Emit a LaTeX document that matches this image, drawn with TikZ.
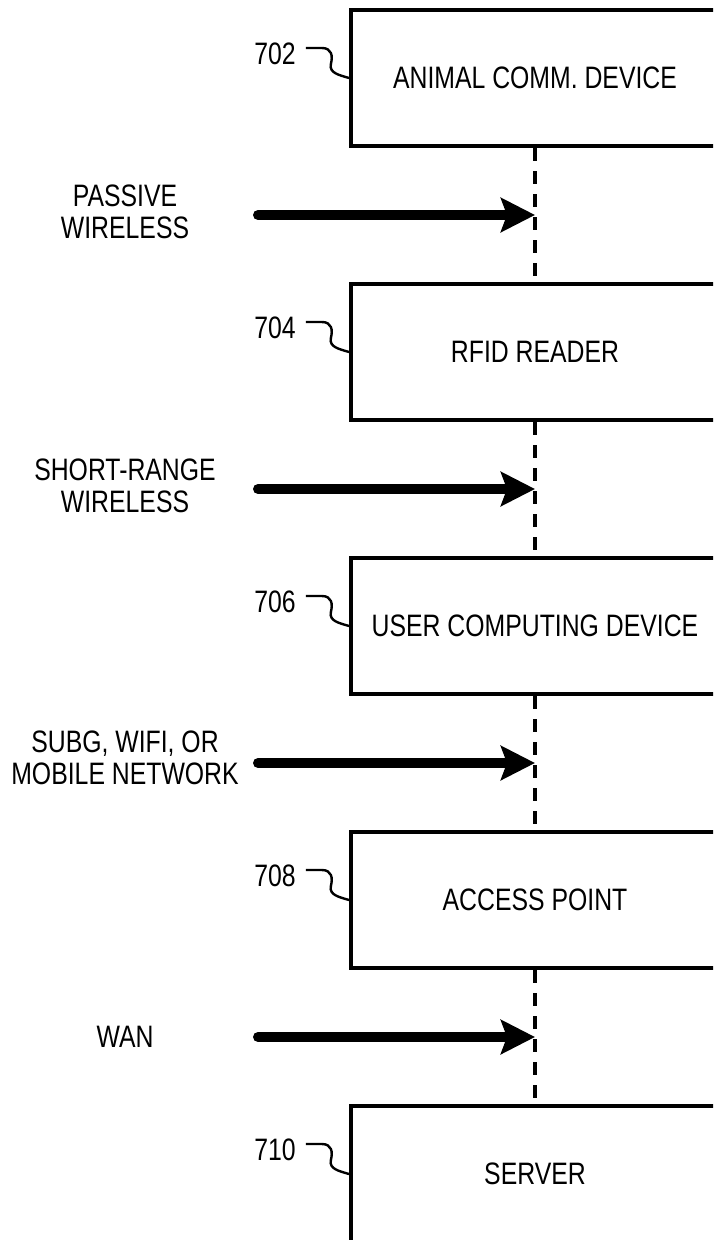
\documentclass[tikz,border=0pt]{standalone}
\usepackage{fontspec}
\setmainfont{Liberation Sans}[FakeStretch=0.8]
\usetikzlibrary{arrows.meta,calc}

\begin{document}
\begin{tikzpicture}[x=1pt,y=-1pt,font=\fontsize{31}{32}\selectfont,
  box/.style={draw,line width=4pt,minimum width=368pt,minimum height=136pt,inner sep=0pt},
  link/.style={line width=4pt,dash pattern=on 13pt off 10pt},
  wire/.style={line width=10pt,line cap=round,-{Stealth[length=34pt,width=34pt,inset=6pt]}},
  leader/.style={line width=2.4pt},
  refnum/.style={inner sep=0pt},
  lbl/.style={align=center,inner sep=0pt}]

\useasboundingbox (0,0) rectangle (713,1240);
\clip (0,0) rectangle (713,1240);

\node[box] (acd) at (535,78) {ANIMAL COMM. DEVICE};
\node[box] (rfid) at (535,352) {RFID READER};
\node[box] (ucd) at (535,626) {USER COMPUTING DEVICE};
\node[box] (ap) at (535,900) {ACCESS POINT};
\node[box] (srv) at (535,1174) {SERVER};

\draw[link] (acd.south) -- (rfid.north);
\draw[link] (rfid.south) -- (ucd.north);
\draw[link] (ucd.south) -- (ap.north);
\draw[link] (ap.south) -- (srv.north);

% reference numerals
\node[refnum] (n702) at ([shift={(-74,-24)}]acd.west) {702};
\node[refnum] (n704) at ([shift={(-74,-24)}]rfid.west) {704};
\node[refnum] (n706) at ([shift={(-74,-24)}]ucd.west) {706};
\node[refnum] (n708) at ([shift={(-74,-24)}]ap.west) {708};
\node[refnum] (n710) at ([shift={(-74,-24)}]srv.west) {710};

\draw[leader] ([shift={(10,-6)}]n702.east) -- ++(16,0) .. controls +(10,0) and +(2,-8) .. ++(9,16) .. controls +(-2,9) and +(-10,-3) .. (acd.west);
\draw[leader] ([shift={(10,-6)}]n704.east) -- ++(16,0) .. controls +(10,0) and +(2,-8) .. ++(9,16) .. controls +(-2,9) and +(-10,-3) .. (rfid.west);
\draw[leader] ([shift={(10,-6)}]n706.east) -- ++(16,0) .. controls +(10,0) and +(2,-8) .. ++(9,16) .. controls +(-2,9) and +(-10,-3) .. (ucd.west);
\draw[leader] ([shift={(10,-6)}]n708.east) -- ++(16,0) .. controls +(10,0) and +(2,-8) .. ++(9,16) .. controls +(-2,9) and +(-10,-3) .. (ap.west);
\draw[leader] ([shift={(10,-6)}]n710.east) -- ++(16,0) .. controls +(10,0) and +(2,-8) .. ++(9,16) .. controls +(-2,9) and +(-10,-3) .. (srv.west);

% links between the devices
\coordinate (m1) at ($(acd.south)!0.5!(rfid.north)$);
\coordinate (m2) at ($(rfid.south)!0.5!(ucd.north)$);
\coordinate (m3) at ($(ucd.south)!0.5!(ap.north)$);
\coordinate (m4) at ($(ap.south)!0.5!(srv.north)$);

\coordinate (s1) at ([xshift=-277]m1);
\coordinate (s2) at ([xshift=-277]m2);
\coordinate (s3) at ([xshift=-277]m3);
\coordinate (s4) at ([xshift=-277]m4);

\draw[wire] (s1) -- (m1);
\draw[wire] (s2) -- (m2);
\draw[wire] (s3) -- (m3);
\draw[wire] (s4) -- (m4);

\node[lbl] (t1) at ([shift={(-410,-3)}]m1) {PASSIVE\\WIRELESS};
\node[lbl] (t2) at ([shift={(-410,-3)}]m2) {SHORT-RANGE\\WIRELESS};
\node[lbl] (t3) at ([shift={(-410,-5)}]m3) {SUBG, WIFI, OR\\MOBILE NETWORK};
\node[lbl] (t4) at ([xshift=-410]m4) {WAN};

\end{tikzpicture}
\end{document}
